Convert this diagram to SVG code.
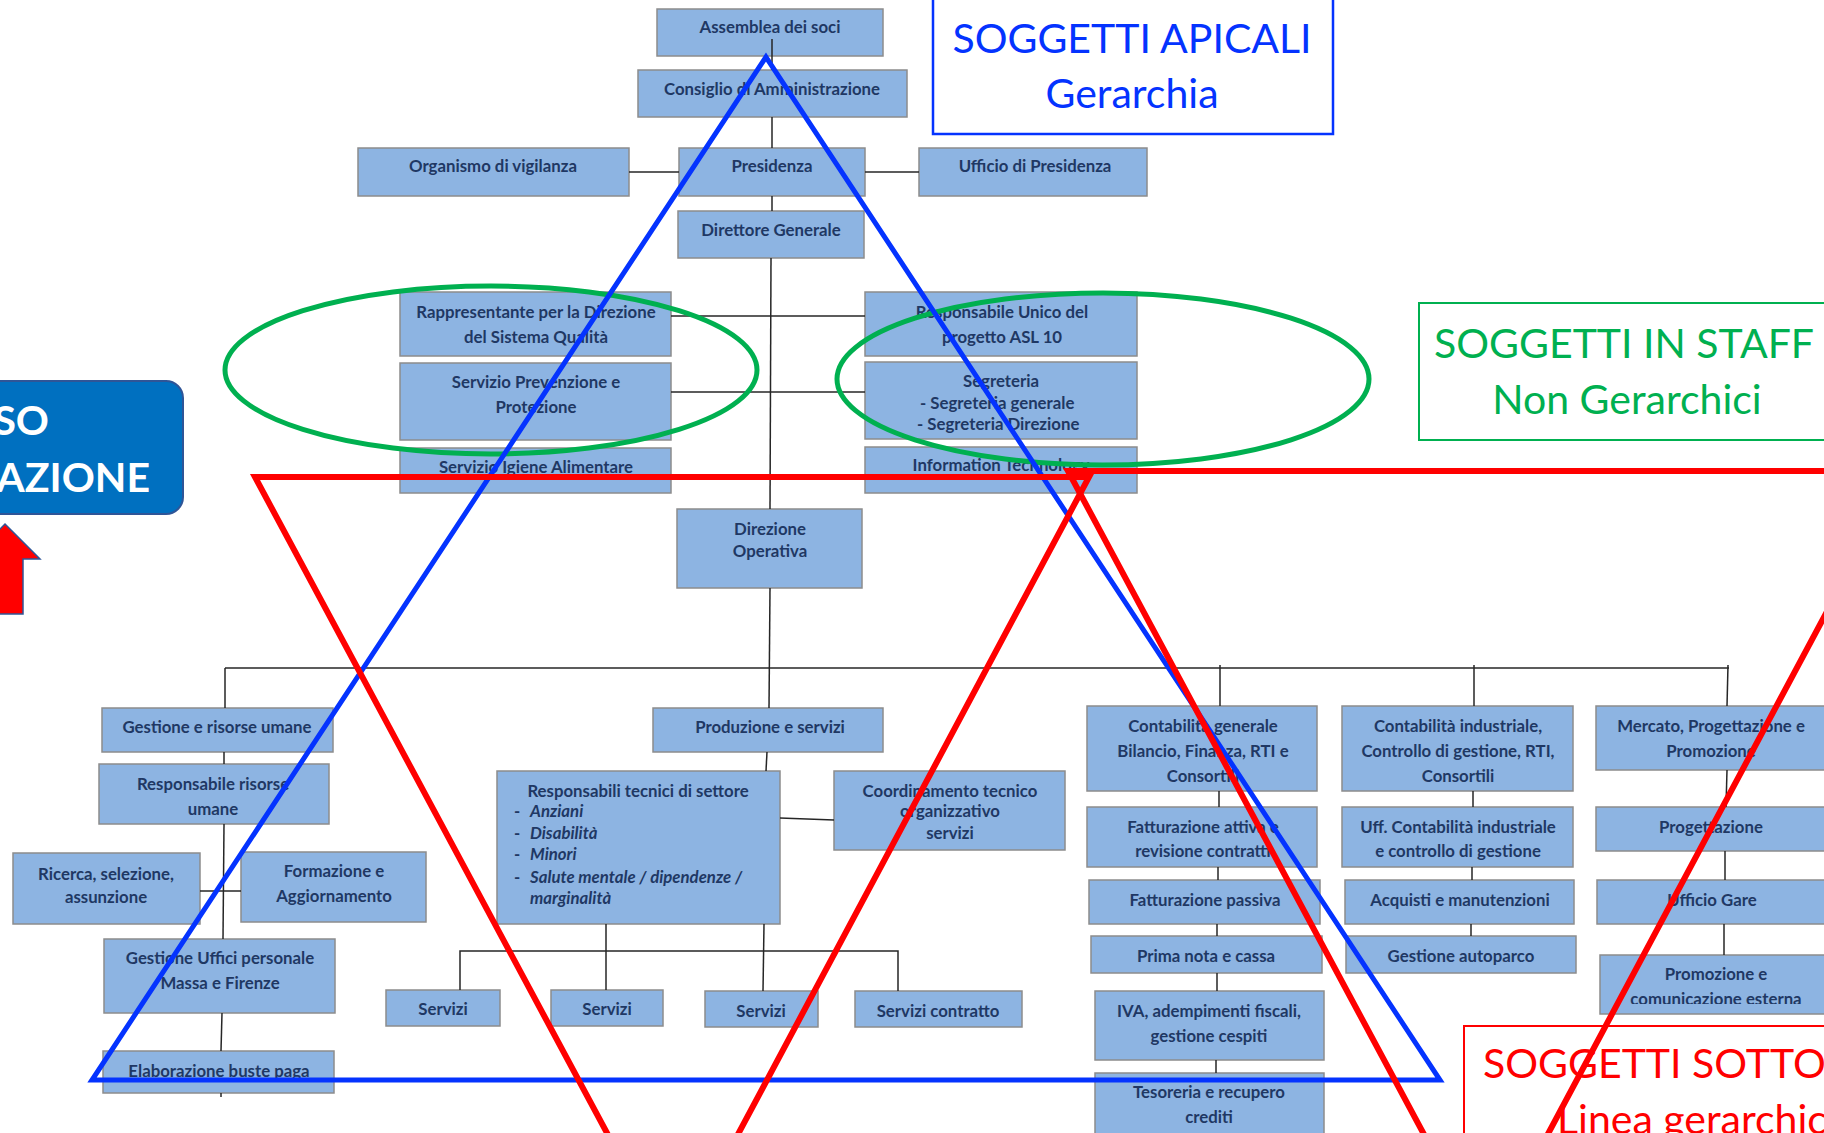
<svg xmlns="http://www.w3.org/2000/svg" width="1824" height="1133" viewBox="0 0 1824 1133">
  <style>
    .box { fill: #8db4e2; stroke: #8c8c8c; stroke-width: 1.5; }
    .t { font-family: Lato, "Liberation Sans", sans-serif; font-weight: bold; font-size: 16.8px; fill: #1f3864; text-anchor: middle; }
    .l { text-anchor: start; }
    .i { font-style: italic; }
    .conn line, .conn polyline { stroke: #262626; stroke-width: 1.5; fill: none; }
    .big { font-family: Lato, "Liberation Sans", sans-serif; font-size: 41px; }
    .shape { fill: none; stroke-linejoin: miter; }
  </style>
  <defs>
    <clipPath id="clipPromo"><rect x="1600" y="955" width="260" height="49"/></clipPath>
    <clipPath id="clipUff"><rect x="1342" y="807" width="231" height="53"/></clipPath>
  </defs>

  <rect x="0" y="0" width="1824" height="1133" fill="#ffffff"/>

  <!-- organisation chart boxes -->
  <g id="assemblea"><rect class="box" x="657" y="9" width="226" height="47"/><text class="t" x="770" y="33">Assemblea dei soci</text></g>
  <g id="consiglio"><rect class="box" x="638" y="70" width="269" height="47"/><text class="t" x="772" y="95">Consiglio di Amministrazione</text></g>
  <g id="presidenza"><rect class="box" x="679" y="148" width="186" height="48"/><text class="t" x="772" y="172">Presidenza</text></g>
  <g id="organismo"><rect class="box" x="358" y="148" width="271" height="48"/><text class="t" x="493" y="172">Organismo di vigilanza</text></g>
  <g id="ufficio-presidenza"><rect class="box" x="919" y="148" width="228" height="48"/><text class="t" x="1035" y="172">Ufficio di Presidenza</text></g>
  <g id="direttore"><rect class="box" x="678" y="211" width="186" height="47"/><text class="t" x="771" y="236">Direttore Generale</text></g>

  <g id="rappresentante"><rect class="box" x="400" y="292" width="271" height="64"/><text class="t" x="536" y="318">Rappresentante per la Direzione</text><text class="t" x="536" y="343">del Sistema Qualità</text></g>
  <g id="prevenzione"><rect class="box" x="400" y="363" width="271" height="77"/><text class="t" x="536" y="388">Servizio  Prevenzione e</text><text class="t" x="536" y="413">Protezione</text></g>
  <g id="igiene"><rect class="box" x="400" y="448" width="271" height="45"/><text class="t" x="536" y="473">Servizio Igiene Alimentare</text></g>
  <g id="rup"><rect class="box" x="865" y="292" width="272" height="64"/><text class="t" x="1002" y="318">Responsabile Unico del</text><text class="t" x="1002" y="343">progetto ASL 10</text></g>
  <g id="segreteria"><rect class="box" x="865" y="362" width="272" height="77"/><text class="t" x="1001" y="387">Segreteria</text><text class="t l" x="920" y="409">-  Segreteria generale</text><text class="t l" x="917" y="430">-  Segreteria Direzione</text></g>
  <g id="it"><rect class="box" x="865" y="447" width="272" height="46"/><text class="t" x="1001" y="471">Information Technology</text></g>

  <g id="direzione-operativa"><rect class="box" x="677" y="509" width="185" height="79"/><text class="t" x="770" y="535">Direzione</text><text class="t" x="770" y="557">Operativa</text></g>

  <!-- human resources -->
  <g id="gestione-risorse"><rect class="box" x="102" y="708" width="231" height="44"/><text class="t" x="217" y="733">Gestione e risorse umane</text></g>
  <g id="resp-risorse"><rect class="box" x="99" y="764" width="230" height="60"/><text class="t" x="213" y="790">Responsabile risorse</text><text class="t" x="213" y="815">umane</text></g>
  <g id="ricerca"><rect class="box" x="13" y="853" width="187" height="71"/><text class="t" x="106" y="880">Ricerca, selezione,</text><text class="t" x="106" y="903">assunzione</text></g>
  <g id="formazione"><rect class="box" x="241" y="852" width="185" height="70"/><text class="t" x="334" y="877">Formazione e</text><text class="t" x="334" y="902">Aggiornamento</text></g>
  <g id="uffici-personale"><rect class="box" x="104" y="939" width="231" height="74"/><text class="t" x="220" y="964">Gestione Uffici personale</text><text class="t" x="220" y="989">Massa e Firenze</text></g>
  <g id="buste-paga"><rect class="box" x="103" y="1051" width="231" height="42"/><text class="t" x="219" y="1077">Elaborazione buste paga</text></g>

  <!-- production and services -->
  <g id="produzione"><rect class="box" x="653" y="708" width="230" height="44"/><text class="t" x="770" y="733">Produzione e servizi</text></g>
  <g id="resp-tecnici"><rect class="box" x="497" y="771" width="283" height="153"/>
    <text class="t" x="638" y="797">Responsabili tecnici di settore</text>
    <text class="t l" x="514" y="817">-</text><text class="t l i" x="530" y="817">Anziani</text>
    <text class="t l" x="514" y="839">-</text><text class="t l i" x="530" y="839">Disabilità</text>
    <text class="t l" x="514" y="860">-</text><text class="t l i" x="530" y="860">Minori</text>
    <text class="t l" x="514" y="883">-</text><text class="t l i" x="530" y="883">Salute mentale / dipendenze /</text>
    <text class="t l i" x="530" y="904">marginalità</text>
  </g>
  <g id="coordinamento"><rect class="box" x="834" y="771" width="231" height="79"/><text class="t" x="950" y="797">Coordinamento tecnico</text><text class="t" x="950" y="817">organizzativo</text><text class="t" x="950" y="839">servizi</text></g>
  <g id="servizi-1"><rect class="box" x="386" y="990" width="114" height="36"/><text class="t" x="443" y="1015">Servizi</text></g>
  <g id="servizi-2"><rect class="box" x="551" y="990" width="112" height="36"/><text class="t" x="607" y="1015">Servizi</text></g>
  <g id="servizi-3"><rect class="box" x="705" y="991" width="113" height="36"/><text class="t" x="761" y="1017">Servizi</text></g>
  <g id="servizi-contratto"><rect class="box" x="855" y="991" width="167" height="36"/><text class="t" x="938" y="1017">Servizi contratto</text></g>

  <!-- general accounting -->
  <g id="contabilita-generale"><rect class="box" x="1087" y="706" width="230" height="85"/><text class="t" x="1203" y="732">Contabilità generale</text><text class="t" x="1203" y="757">Bilancio, Finanza, RTI e</text><text class="t" x="1203" y="782">Consortili</text></g>
  <g id="fatturazione-attiva"><rect class="box" x="1087" y="807" width="230" height="60"/><text class="t" x="1203" y="833">Fatturazione attiva e</text><text class="t" x="1203" y="857">revisione contratti</text></g>
  <g id="fatturazione-passiva"><rect class="box" x="1089" y="880" width="231" height="44"/><text class="t" x="1205" y="906">Fatturazione passiva</text></g>
  <g id="prima-nota"><rect class="box" x="1091" y="936" width="231" height="37"/><text class="t" x="1206" y="962">Prima nota e cassa</text></g>
  <g id="iva"><rect class="box" x="1095" y="991" width="229" height="69"/><text class="t" x="1209" y="1017">IVA, adempimenti fiscali,</text><text class="t" x="1209" y="1042">gestione cespiti</text></g>
  <g id="tesoreria"><rect class="box" x="1095" y="1073" width="229" height="80"/><text class="t" x="1209" y="1098">Tesoreria e recupero</text><text class="t" x="1209" y="1123">crediti</text></g>

  <!-- industrial accounting -->
  <g id="contabilita-industriale"><rect class="box" x="1342" y="706" width="231" height="85"/><text class="t" x="1458" y="732">Contabilità industriale,</text><text class="t" x="1458" y="757">Controllo di gestione, RTI,</text><text class="t" x="1458" y="782">Consortili</text></g>
  <g id="uff-contabilita"><rect class="box" x="1342" y="807" width="231" height="60"/><g clip-path="url(#clipUff)"><text class="t" x="1458" y="833">Uff. Contabilità industriale</text><text class="t" x="1458" y="857">e controllo di gestione</text></g></g>
  <g id="acquisti"><rect class="box" x="1345" y="880" width="229" height="44"/><text class="t" x="1460" y="906">Acquisti e manutenzioni</text></g>
  <g id="autoparco"><rect class="box" x="1346" y="936" width="230" height="37"/><text class="t" x="1461" y="962">Gestione autoparco</text></g>

  <!-- market -->
  <g id="mercato"><rect class="box" x="1596" y="706" width="250" height="64"/><text class="t" x="1711" y="732">Mercato, Progettazione e</text><text class="t" x="1711" y="757">Promozione</text></g>
  <g id="progettazione"><rect class="box" x="1596" y="807" width="250" height="44"/><text class="t" x="1711" y="833">Progettazione</text></g>
  <g id="gare"><rect class="box" x="1597" y="880" width="250" height="44"/><text class="t" x="1712" y="906">Ufficio Gare</text></g>
  <g id="promozione"><rect class="box" x="1600" y="955" width="250" height="59"/><g clip-path="url(#clipPromo)"><text class="t" x="1716" y="980">Promozione e</text><text class="t" x="1716" y="1005">comunicazione esterna</text></g></g>

  <!-- connectors -->
  <g id="connectors" class="conn">
    <line x1="772" y1="39" x2="772" y2="70"/>
    <line x1="772" y1="117" x2="772" y2="148"/>
    <line x1="772" y1="196" x2="772" y2="211"/>
    <line x1="629" y1="172" x2="679" y2="172"/>
    <line x1="865" y1="172" x2="919" y2="172"/>
    <line x1="771" y1="258" x2="770" y2="509"/>
    <line x1="671" y1="316" x2="865" y2="316"/>
    <line x1="671" y1="392" x2="865" y2="392"/>
    <line x1="770" y1="588" x2="769" y2="708"/>
    <line x1="225" y1="668" x2="1729" y2="668"/>
    <line x1="225" y1="668" x2="225" y2="708"/>
    <line x1="1220" y1="665" x2="1220" y2="706"/>
    <line x1="1474" y1="665" x2="1474" y2="706"/>
    <line x1="1728" y1="665" x2="1727" y2="706"/>
    <!-- human resources column -->
    <line x1="224" y1="752" x2="224" y2="764"/>
    <line x1="224" y1="824" x2="223" y2="939"/>
    <line x1="200" y1="891" x2="241" y2="891"/>
    <line x1="222" y1="1013" x2="221" y2="1051"/>
    <line x1="221" y1="1093" x2="221" y2="1097"/>
    <!-- production column -->
    <line x1="767" y1="752" x2="766" y2="771"/>
    <line x1="780" y1="818" x2="834" y2="820"/>
    <line x1="606" y1="924" x2="606" y2="990"/>
    <line x1="764" y1="924" x2="763" y2="991"/>
    <polyline points="460,990 460,951 898,951 898,991"/>
    <!-- general accounting column -->
    <line x1="1219" y1="791" x2="1219" y2="807"/>
    <line x1="1218" y1="867" x2="1218" y2="880"/>
    <line x1="1217" y1="924" x2="1217" y2="936"/>
    <line x1="1217" y1="973" x2="1217" y2="991"/>
    <line x1="1216" y1="1060" x2="1216" y2="1073"/>
    <!-- industrial accounting column -->
    <line x1="1473" y1="791" x2="1473" y2="807"/>
    <line x1="1472" y1="867" x2="1472" y2="880"/>
    <line x1="1471" y1="924" x2="1471" y2="936"/>
    <!-- market column -->
    <line x1="1727" y1="770" x2="1726" y2="807"/>
    <line x1="1725" y1="851" x2="1725" y2="880"/>
    <line x1="1724" y1="924" x2="1724" y2="955"/>
  </g>

  <!-- caption boxes -->
  <g id="label-apicali">
    <rect x="933" y="-3" width="400" height="137" fill="#ffffff" stroke="#0433ff" stroke-width="2.5"/>
    <text class="big" x="1132" y="53" text-anchor="middle" fill="#0433ff">SOGGETTI APICALI</text>
    <text class="big" x="1132" y="108" text-anchor="middle" fill="#0433ff">Gerarchia</text>
  </g>
  <g id="label-staff">
    <rect x="1419" y="303" width="420" height="137" fill="#ffffff" stroke="#00b050" stroke-width="2"/>
    <text class="big" x="1624" y="358" text-anchor="middle" fill="#00b050">SOGGETTI IN STAFF</text>
    <text class="big" x="1627" y="414" text-anchor="middle" fill="#00b050">Non Gerarchici</text>
  </g>
  <g id="label-sottoposti">
    <rect x="1464" y="1026" width="500" height="150" fill="#ffffff" stroke="#ff0000" stroke-width="2"/>
    <text class="big" x="1483" y="1078" fill="#ff0000">SOGGETTI SOTTOPOSTI</text>
    <text class="big" x="1557" y="1134" fill="#ff0000">Linea gerarchica</text>
  </g>
  <g id="label-processo">
    <rect x="-60" y="381" width="243" height="133" rx="17" fill="#0070c0" stroke="#2f5597" stroke-width="2"/>
    <text class="big" x="49" y="435" text-anchor="end" font-weight="bold" fill="#ffffff">SO</text>
    <text class="big" x="150" y="492" text-anchor="end" font-weight="bold" fill="#ffffff">AZIONE</text>
  </g>
  <g id="arrow-up">
    <polygon points="5,524 40,559 23,559 23,614 -13,614 -13,559 -30,559" fill="#ff0000" stroke="#2f5597" stroke-width="1.5"/>
  </g>

  <!-- highlighted groups -->
  <g id="staff-ellipses" class="shape" stroke="#00b050" stroke-width="5">
    <ellipse cx="491" cy="370" rx="266" ry="84"/>
    <ellipse cx="1103" cy="379" rx="266" ry="86"/>
  </g>
  <g id="apical-triangle" class="shape" stroke="#0433ff" stroke-width="5">
    <polygon points="766,57 92,1080 1440,1080"/>
  </g>
  <g id="subordinate-triangles" class="shape" stroke="#ff0000" stroke-width="6">
    <polygon points="255,477 1089,477 673,1256"/>
    <polygon points="1068,471 1902,471 1486,1250"/>
  </g>
</svg>
